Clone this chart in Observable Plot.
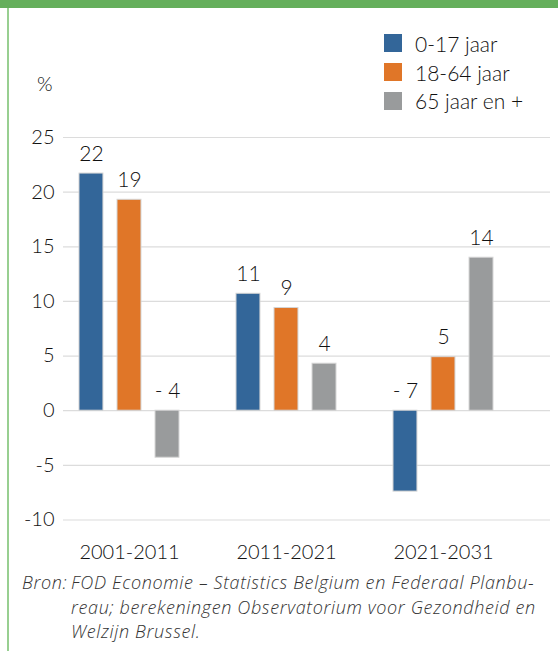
<!DOCTYPE html>
<html>
<head>
<meta charset="utf-8">
<script src="https://cdn.jsdelivr.net/npm/d3@7"></script>
<script src="https://cdn.jsdelivr.net/npm/@observablehq/plot@0.6"></script>
<style>
  html, body { margin: 0; padding: 0; background: #fff; }
  #wrap { position: relative; width: 558px; height: 651px; overflow: hidden; font-family: Lato, "Open Sans", sans-serif; font-weight: 300; color: #111; }
  #topbar { position: absolute; left: 0; top: 0; width: 558px; height: 8px; background: #65af5c; }
  #leftline { position: absolute; left: 7px; top: 8px; width: 2px; height: 643px; background: #98cf91; }
  #grid, #chart { position: absolute; left: 0; top: 0; }
  #pct { position: absolute; left: 37px; top: 71px; font-size: 20px; }
  #legend { position: absolute; left: 384px; top: 29px; font-size: 21px; }
  .item { display: flex; align-items: center; height: 28.7px; white-space: nowrap; }
  .sw { width: 18px; height: 18px; margin-right: 13px; flex: none; }
  #caption { position: absolute; left: 22px; top: 570px; font-family: "Open Sans", sans-serif; font-weight: 300; font-size: 18px; letter-spacing: 0.65px; font-style: italic; color: #333; line-height: 24.5px; display: flex; white-space: nowrap; }
  #caption .lead { width: 49px; flex: none; }
</style>
</head>
<body>
<div id="wrap">
  <div id="grid"></div>
  <div id="chart"></div>
  <div id="topbar"></div>
  <div id="leftline"></div>
  <div id="pct">%</div>
  <div id="legend"></div>
  <div id="caption"><span class="lead">Bron:</span><span>FOD Economie – Statistics Belgium en Federaal Planbu-<br>reau; berekeningen Observatorium voor Gezondheid en<br>Welzijn Brussel.</span></div>
</div>
<script>
// ---- data ----
const periods = ["2001-2011", "2011-2021", "2021-2031"];
const groups = ["0-17 jaar", "18-64 jaar", "65 jaar en +"];
const colors = ["#336699", "#e07628", "#999b9c"];
const values017 = [21.7, 10.7, -7.4];
const values1864 = [19.3, 9.4, 4.9];
const values65 = [-4.3, 4.3, 14.0];
const yTicks = [-10, -5, 0, 5, 10, 15, 20, 25];

const series = [values017, values1864, values65];
const data = [];
periods.forEach((p, i) => {
  groups.forEach((g, j) => {
    data.push({ period: p, group: g, value: series[j][i] });
  });
});
const fmt = v => (v < 0 ? "- " + Math.abs(Math.round(v)) : String(Math.round(v)));

const common = {
  width: 558,
  height: 570,
  marginTop: 137,
  marginBottom: 50.5,
  marginLeft: 63,
  marginRight: 8,
  style: { fontFamily: "Lato, 'Open Sans', sans-serif", fontWeight: 300, fontSize: "20px", color: "#111", background: "transparent", overflow: "visible" }
};

// background: y axis + continuous gridlines
const grid = Plot.plot({
  ...common,
  x: { axis: null },
  y: { domain: [-10, 25], ticks: yTicks, tickFormat: d => String(d), label: null, tickSize: 0, tickPadding: 9 },
  marks: [
    Plot.ruleY(yTicks, { stroke: "#dcdcdc", strokeWidth: 1.2 })
  ]
});
document.getElementById("grid").appendChild(grid);

// bars, grouped by period
const chart = Plot.plot({
  ...common,
  fx: { domain: periods, label: null, paddingInner: 0.3631, paddingOuter: 0.2325, align: 0.219, round: false, axis: "bottom", tickSize: 0, tickPadding: 25 },
  x: { domain: groups, axis: null, paddingInner: 0.37, paddingOuter: 0, round: false },
  y: { domain: [-10, 25], axis: null },
  color: { domain: groups, range: colors },
  marks: [
    Plot.barY(data, { fx: "period", x: "group", y: "value", fill: "group", stroke: "#d4d4d4", strokeWidth: 1 }),
    Plot.text(data, { fx: "period", x: "group", y: d => Math.max(0, d.value), text: d => fmt(d.value), dy: -13, lineAnchor: "bottom", fontSize: 21, fontWeight: 300, fill: "#111" })
  ]
});
document.getElementById("chart").appendChild(chart);

const legend = document.getElementById("legend");
groups.forEach((g, i) => {
  const row = document.createElement("div");
  row.className = "item";
  const sw = document.createElement("div");
  sw.className = "sw";
  sw.style.background = colors[i];
  const t = document.createElement("span");
  t.textContent = g;
  row.appendChild(sw);
  row.appendChild(t);
  legend.appendChild(row);
});
</script>
</body>
</html>
